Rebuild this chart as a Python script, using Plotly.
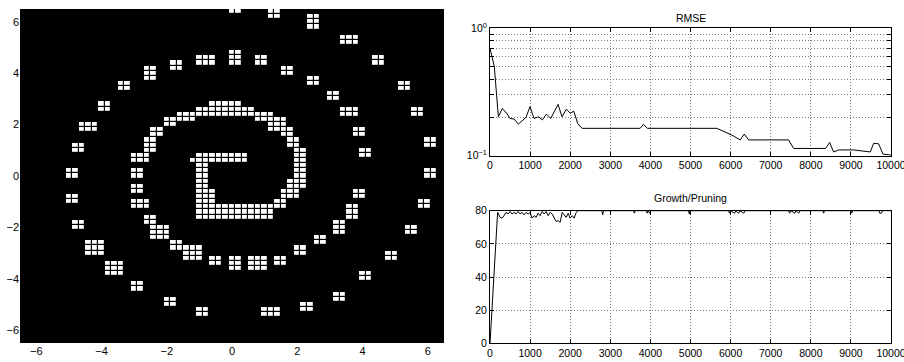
import plotly.graph_objects as go

# ---------------- Left panel: occupied grid cells (cell-centre coords, step 0.2) -------------
# each block: x from blk_x0..blk_x1, y from blk_y0..blk_y1 (inclusive, cell centres)
blk_x0 = [0.0, 1.2, 2.4, 3.4, 4.4, 5.2, 5.6, 6.0, 6.0, 5.8, 5.4, 4.8, 4.0, 3.2, 2.2, 1.0,
          -1.0, -2.0, -3.0, -3.8, -4.4, -4.8, -5.0, -5.0, -4.8, -4.6, -4.0, -3.4, -2.6, -1.8,
          -1.0, 0.0, 0.8, 1.6, 2.4, 3.0, 3.4, 3.8, 4.0, 3.8, 3.6, 3.2, 2.6, 2.0, 1.4, 0.6,
          0.0, -0.6, -1.4, -1.8, -2.4, -2.6,
          -0.6, -1.0, -1.6, -2.0, 0.8, -2.0, 1.2, -2.4, 1.2, 1.6, -2.6, 1.8, -3.0, 2.0,
          -3.0, 1.8, -3.0, 1.6, -3.0, 1.4,
          -1.0, -1.2, -1.0, -1.0, -1.0]
blk_x1 = [0.2, 1.4, 2.6, 3.8, 4.6, 5.4, 5.8, 6.2, 6.2, 6.0, 5.6, 5.0, 4.2, 3.4, 2.4, 1.4,
          -0.8, -1.8, -2.8, -3.4, -4.0, -4.6, -4.8, -4.8, -4.6, -4.2, -3.8, -3.2, -2.4, -1.6,
          -0.6, 0.2, 1.0, 1.8, 2.6, 3.2, 3.8, 4.0, 4.2, 4.0, 3.8, 3.4, 2.8, 2.2, 1.6, 1.0,
          0.2, -0.4, -1.0, -1.6, -2.0, -2.4,
          0.2, 0.6, 1.2, -1.2, 1.6, -1.8, 1.6, -2.2, 1.8, 1.8, -2.4, 2.0, -2.6, 2.2,
          -2.8, 1.8, -2.8, 2.0, -2.6, 1.6,
          0.4, 0.4, -0.8, -0.6, 1.2]
blk_y0 = [6.4, 6.2, 5.8, 5.2, 4.4, 3.4, 2.4, 1.2, 0.0, -1.2, -2.2, -3.2, -4.0, -4.8, -5.2, -5.4,
          -5.4, -5.0, -4.4, -3.8, -3.0, -2.0, -1.0, 0.0, 1.0, 1.8, 2.6, 3.4, 3.8, 4.2,
          4.4, 4.4, 4.4, 4.0, 3.6, 3.0, 2.4, 1.6, 0.8, -0.8, -1.6, -2.2, -2.6, -3.0, -3.4, -3.6,
          -3.6, -3.4, -3.2, -2.8, -2.4, -1.8,
          2.8, 2.6, 2.4, 2.2, 2.2, 2.0, 2.0, 1.6, 1.8, 1.6, 1.0, 1.2, 0.6, -0.4,
          0.0, -0.4, -0.6, -0.8, -1.2, -1.2,
          0.8, 0.6, -0.4, -1.0, -1.6]
blk_y1 = [6.4, 6.4, 6.2, 5.4, 4.6, 3.6, 2.6, 1.4, 0.2, -1.0, -2.0, -3.0, -3.8, -4.6, -5.0, -5.2,
          -5.2, -4.8, -4.2, -3.4, -2.6, -1.8, -0.8, 0.2, 1.2, 2.0, 2.8, 3.6, 4.2, 4.4,
          4.6, 4.8, 4.6, 4.2, 3.8, 3.2, 2.6, 1.8, 1.0, -0.6, -1.2, -1.8, -2.4, -2.8, -3.2, -3.2,
          -3.2, -3.2, -2.8, -2.6, -2.0, -1.6,
          2.8, 2.6, 2.4, 2.2, 2.2, 2.0, 2.0, 1.8, 1.8, 1.6, 1.4, 1.4, 0.8, 1.0,
          0.2, -0.2, -0.4, -0.6, -1.0, -1.0,
          0.8, 0.6, 0.4, -0.6, -1.2]

# ---------------- RMSE curve ----------------
rmse_x = [0, 108, 208, 308, 416, 499, 599, 707, 898, 998, 1098, 1206, 1306, 1406, 1514,
          1697, 1797, 1905, 2005, 2088, 2188, 2296, 3744, 3827, 3927, 5657, 6032, 6240,
          6340, 6448, 7446, 7571, 8369, 8469, 8569, 8694, 9068, 9484, 9567, 9692, 9800, 10000]
rmse_y = [0.696, 0.50, 0.202, 0.235, 0.215, 0.196, 0.194, 0.177, 0.200, 0.243, 0.196, 0.202,
          0.191, 0.212, 0.196, 0.253, 0.202, 0.232, 0.215, 0.224, 0.179, 0.164, 0.164, 0.176,
          0.164, 0.164, 0.145, 0.133, 0.148, 0.133, 0.133, 0.114, 0.114, 0.127, 0.107, 0.111,
          0.111, 0.107, 0.125, 0.124, 0.103, 0.101]

# ---------------- Growth / Pruning curve ----------------
grow_x = [0, 190, 250, 300, 350, 400, 450, 500, 550, 600, 650, 700, 750, 800, 850, 900, 950,
          1000, 1050, 1100, 1150, 1200, 1250, 1300, 1350, 1400, 1450, 1500, 1550, 1600,
          1650, 1700, 1750, 1800, 1850, 1900, 1950, 2000, 2050, 2100, 2150, 2200,
          2790, 2810, 2830, 3580, 3600, 3620, 3900, 3920, 3950, 3980, 4010, 4950, 4970,
          4990, 5950, 5970, 6000, 6100, 6130, 6200, 6230, 6330, 6360, 7450, 7470, 7500,
          7600, 7630, 7700, 7730, 8300, 8320, 8340, 9000, 9020, 9040, 9700, 9720, 9760,
          9790, 10000]
grow_y = [0, 79, 76, 75.5, 77, 79, 78, 79.5, 78, 79, 78, 79.5, 78, 79, 77.5, 79, 78,
          79, 75.5, 77, 76, 78.5, 77, 79.5, 78, 79.5, 77, 79, 78, 76,
          73.5, 74, 73, 79, 77.5, 76, 78.5, 75.5, 77, 75.5, 79, 80,
          80, 77.5, 80, 80, 78.5, 80, 80, 78.5, 80, 78.5, 80, 80, 78,
          80, 80, 78.5, 80, 78.5, 80, 78.5, 80, 78.5, 80, 80, 78.5, 80,
          78.5, 80, 78.5, 80, 80, 78.5, 80, 80, 78.5, 80, 80, 78.5, 78.5,
          80, 80]

# ---------------- build cell grid ----------------
N = 65
grid = [round(-6.4 + 0.2 * k, 1) for k in range(N)]
z = [[0] * N for _ in range(N)]
for x0, x1, y0, y1 in zip(blk_x0, blk_x1, blk_y0, blk_y1):
    i0, i1 = round((x0 + 6.4) / 0.2), round((x1 + 6.4) / 0.2)
    j0, j1 = round((y0 + 6.4) / 0.2), round((y1 + 6.4) / 0.2)
    for j in range(min(j0, j1), max(j0, j1) + 1):
        for i in range(min(i0, i1), max(i0, i1) + 1):
            z[j][i] = 1

W, H = 904, 362
fig = go.Figure()

fig.add_trace(go.Heatmap(x=grid, y=grid, z=z, zmin=0, zmax=1,
                         colorscale=[[0, "black"], [1, "white"]], showscale=False,
                         xgap=1.2, ygap=1.2, hoverinfo="skip",
                         xaxis="x", yaxis="y"))
fig.add_trace(go.Scatter(x=rmse_x, y=rmse_y, mode="lines",
                         line=dict(color="black", width=1), xaxis="x2", yaxis="y2",
                         showlegend=False))
fig.add_trace(go.Scatter(x=grow_x, y=grow_y, mode="lines",
                         line=dict(color="black", width=1), xaxis="x3", yaxis="y3",
                         showlegend=False))

font = "Liberation Sans, Arial, Helvetica, sans-serif"
lx = [20 / W, 444 / W]
ly = [1 - 343 / H, 1 - 9 / H]
rx = [490 / W, 891 / W]
r1y = [1 - 155.7 / H, 1 - 28.3 / H]
r2y = [1 - 343.3 / H, 1 - 210.7 / H]

common_r = dict(showline=True, linecolor="black", linewidth=1, mirror="ticks",
                ticks="inside", ticklen=4, tickcolor="black", automargin=False,
                ticklabeloverflow="allow",
                showgrid=True, gridcolor="#7a7a7a", griddash="1px,2px", gridwidth=1,
                zeroline=False, tickfont=dict(family=font, size=10.5, color="black"))

rmse_ticks = [0.1, 0.2, 0.3, 0.4, 0.5, 0.6, 0.7, 0.8, 0.9, 1.0]
rmse_text = ["10<sup>\u22121</sup>", "", "", "", "", "", "", "", "", "10<sup>0</sup>"]

left_common = dict(range=[-6.5, 6.5], tickvals=[-6, -4, -2, 0, 2, 4, 6],
                   showgrid=False, zeroline=False, showline=False, ticks="",
                   automargin=False, ticklabeloverflow="allow",
                   tickfont=dict(family=font, size=11, color="black"))

fig.update_layout(
    width=W, height=H, margin=dict(l=0, r=0, t=0, b=0, autoexpand=False),
    paper_bgcolor="white", plot_bgcolor="white", showlegend=False,
    xaxis=dict(domain=lx, anchor="y", **left_common),
    yaxis=dict(domain=ly, anchor="x", **left_common),
    xaxis2=dict(domain=rx, range=[0, 10000], dtick=1000, tick0=0, tickformat="d",
                anchor="y2", **common_r),
    yaxis2=dict(domain=r1y, type="log", range=[-1, 0], tickvals=rmse_ticks,
                ticktext=rmse_text, anchor="x2", **common_r),
    xaxis3=dict(domain=rx, range=[0, 10000], dtick=1000, tick0=0, tickformat="d",
                anchor="y3", **common_r),
    yaxis3=dict(domain=r2y, range=[0, 80], dtick=20, tick0=0, anchor="x3", **common_r),
    shapes=[dict(type="rect", xref="x domain", yref="y domain", x0=0, x1=1, y0=0, y1=1,
                 fillcolor="black", line=dict(width=0), layer="below")],
    annotations=[
        dict(text="RMSE", x=(rx[0] + rx[1]) / 2, y=1 - 18 / H, xref="paper", yref="paper",
             xanchor="center", yanchor="middle", showarrow=False,
             font=dict(family=font, size=10.5, color="black")),
        dict(text="Growth/Pruning", x=(rx[0] + rx[1]) / 2, y=1 - 198 / H, xref="paper",
             yref="paper", xanchor="center", yanchor="middle", showarrow=False,
             font=dict(family=font, size=10.5, color="black")),
    ],
)

fig.write_html("out.html", config={"displayModeBar": False},
               post_script="document.body.style.margin='0';document.body.style.overflow='hidden';")
